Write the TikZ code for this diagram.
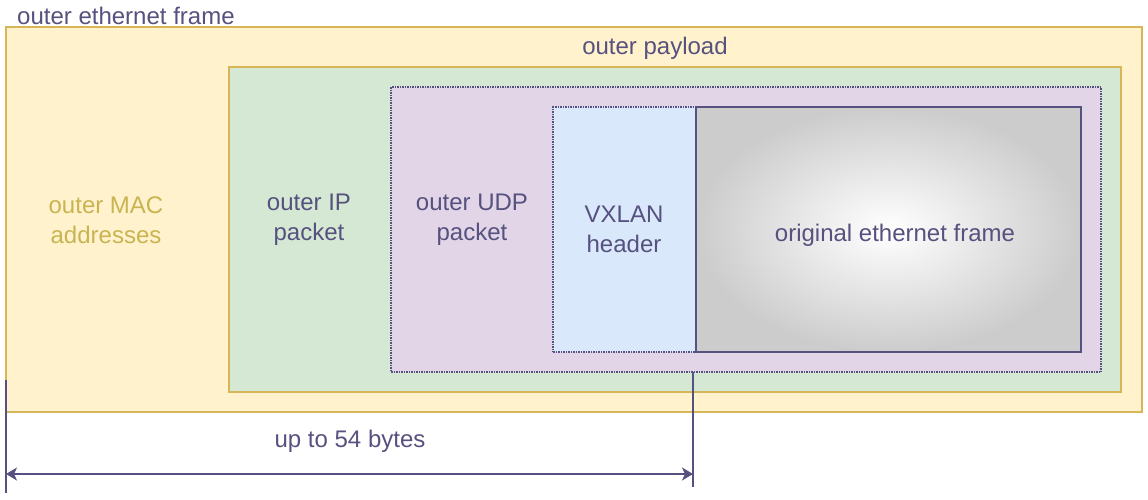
\documentclass[tikz,border=0pt]{standalone}
\usepackage{fontspec}
\setmainfont{Liberation Sans}
\usepackage{tikz}
\usetikzlibrary{arrows.meta, positioning}
\definecolor{inkc}{HTML}{56517E}
\definecolor{goldc}{HTML}{D6B656}
\definecolor{goldtxt}{HTML}{C9B452}
\definecolor{yellowf}{HTML}{FFF2CC}
\definecolor{greenf}{HTML}{D5E8D4}
\definecolor{purplef}{HTML}{E1D5E7}
\definecolor{bluef}{HTML}{DAE8FC}
\definecolor{grayf}{HTML}{CCCCCC}
\tikzstyle{layer} = [
  rectangle, inner sep=0pt, draw=goldc, line width=1.2pt
]
\tikzstyle{dotlayer} = [
  rectangle, inner sep=0pt, draw=inkc, line width=1.5pt,
  dash pattern=on 1.5pt off 1pt
]
\tikzstyle{caption} = [
  text=inkc, align=center, inner sep=0pt
]
\tikzset{
  dimarrow/.style={
    draw=inkc, line width=1.6pt,
    {Stealth[length=11pt,width=13pt,inset=3pt]}-{Stealth[length=11pt,width=13pt,inset=3pt]}
  },
  dimline/.style={draw=inkc, line width=1.6pt}
}

\begin{document}
\begin{tikzpicture}[
  x=1pt, y=-1pt,
  font=\fontsize{24}{30}\selectfont
]
\useasboundingbox (0,0) rectangle (1148,499);

% ------------------------------------------------
% CAPAS (de fuera hacia dentro)
% ------------------------------------------------

\node[layer, fill=yellowf, minimum width=1136pt, minimum height=385pt] (eth) at (574,219.5) {};

\node[layer, fill=greenf, minimum width=892pt, minimum height=325pt] (ip) at (675,229.5) {};

\node[dotlayer, fill=purplef, minimum width=710pt, minimum height=285pt] (udp) at (746,229.5) {};

\node[dotlayer, fill=bluef, minimum width=143pt, minimum height=245pt] (vx) at (624.5,229.5) {};

\node[rectangle, inner sep=0pt, draw=inkc, line width=1.6pt,
  inner color=white, outer color=grayf,
  minimum width=385pt, minimum height=245pt] (orig) at (888.5,229.5) {};

% ------------------------------------------------
% TEXTOS
% ------------------------------------------------

\node[caption, anchor=west] (tframe) at (17,16) {outer ethernet frame};
\node[caption] (tpay) at (655,48) {outer payload};
\node[caption, text=goldtxt] (tmac) at (106,220) {outer MAC\\addresses};
\node[caption] (tip) at (309,220) {outer IP\\packet};
\node[caption] (tudp) at (472,220) {outer UDP\\packet};
\node[caption] (tvx) at (624,229) {VXLAN\\header};
\node[caption] (torig) at (895,235) {original ethernet frame};

% ------------------------------------------------
% COTA (up to 54 bytes)
% ------------------------------------------------

\coordinate (l0) at (6,380);
\coordinate (l1) at (6,493);
\coordinate (r0) at (693,372);
\coordinate (r1) at (693,487);
\coordinate (a0) at (6,474);
\coordinate (a1) at (693,474);

\draw[dimline] (l0) -- (l1);
\draw[dimline] (r0) -- (r1);
\draw[dimarrow] (a0) -- (a1);

\node[caption] (tbytes) at (350,441) {up to 54 bytes};

\end{tikzpicture}
\end{document}
